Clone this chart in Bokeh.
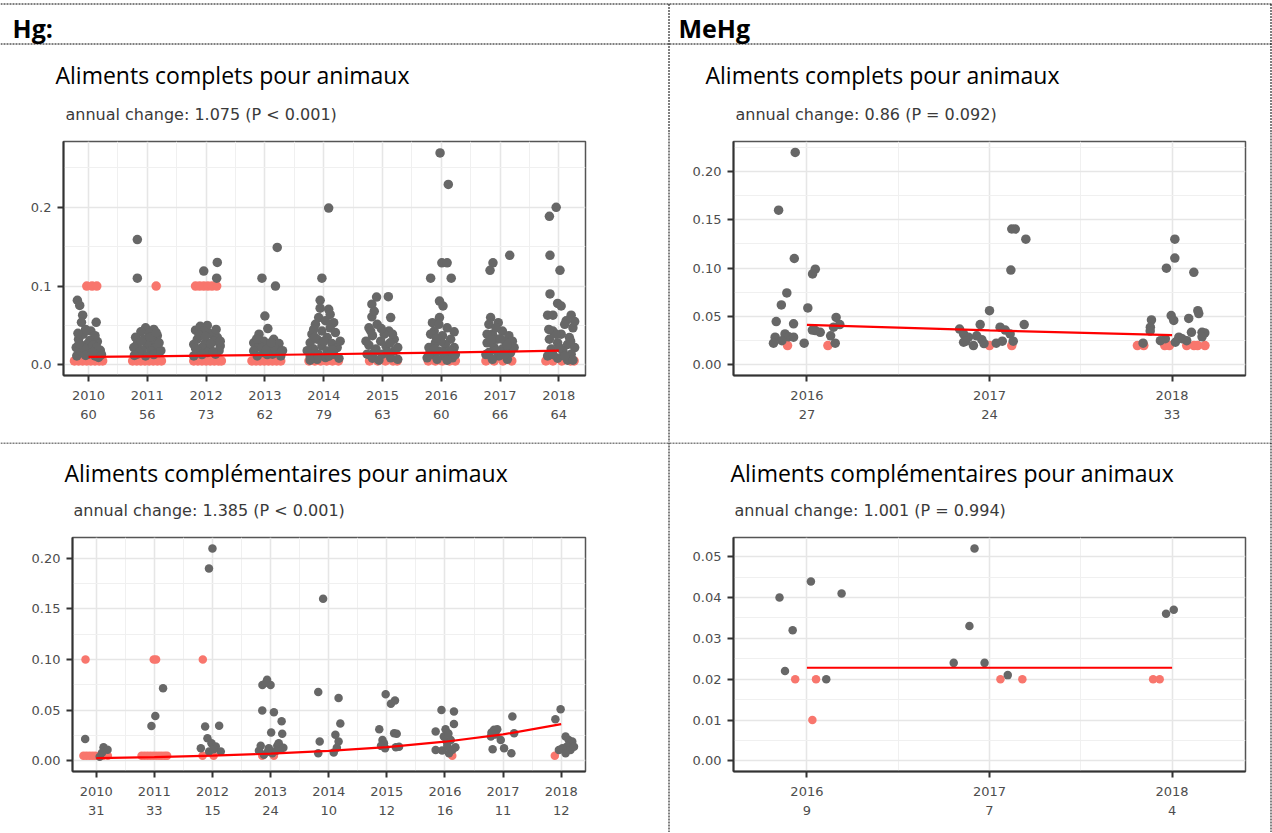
from bokeh.plotting import figure
from bokeh.layouts import column, row
from bokeh.models import Range1d, FixedTicker
from bokeh.core.properties import value
from bokeh.embed import file_html
from bokeh.resources import INLINE

# ------------------------------------------------------------------ data
years_hg = [2010, 2011, 2012, 2013, 2014, 2015, 2016, 2017, 2018]
years_mehg = [2016, 2017, 2018]

n_hg_complets = [60, 56, 73, 62, 79, 63, 60, 66, 64]
n_mehg_complets = [27, 24, 33]
n_hg_compl = [31, 33, 15, 24, 10, 12, 16, 11, 12]
n_mehg_compl = [9, 7, 4]

header_left = "Hg:"
header_right = "MeHg"
title_complets = "Aliments complets pour animaux"
title_compl = "Aliments complémentaires pour animaux"
sub_hg_complets = "annual change: 1.075 (P < 0.001)"
sub_mehg_complets = "annual change: 0.86 (P = 0.092)"
sub_hg_compl = "annual change: 1.385 (P < 0.001)"
sub_mehg_compl = "annual change: 1.001 (P = 0.994)"

yt_hg_complets = [0.0, 0.1, 0.2]
yl_hg_complets = ["0.0", "0.1", "0.2"]
ym_hg_complets = [0.05, 0.15, 0.25]
yt_mehg_complets = [0.0, 0.05, 0.10, 0.15, 0.20]
yl_mehg_complets = ["0.00", "0.05", "0.10", "0.15", "0.20"]
ym_mehg_complets = [0.025, 0.075, 0.125, 0.175, 0.225]
yt_hg_compl = [0.0, 0.05, 0.10, 0.15, 0.20]
yl_hg_compl = ["0.00", "0.05", "0.10", "0.15", "0.20"]
ym_hg_compl = [0.025, 0.075, 0.125, 0.175]
yt_mehg_compl = [0.0, 0.01, 0.02, 0.03, 0.04, 0.05]
yl_mehg_compl = ["0.00", "0.01", "0.02", "0.03", "0.04", "0.05"]
ym_mehg_compl = [0.005, 0.015, 0.025, 0.035, 0.045]

# fitted trend
fit_hg_complets = [0.0101, 0.0109, 0.0117, 0.0125, 0.0135, 0.0145, 0.0156, 0.0167, 0.0180]
fit_mehg_complets = [0.0413, 0.0357, 0.0308]
fit_hg_compl = [0.0027, 0.0037, 0.0051, 0.0071, 0.0098, 0.0136, 0.0189, 0.0261, 0.0362]
fit_mehg_compl = [0.0228, 0.0228, 0.0228]

# jittered observations (year position, value): quantified = grey, below LOQ = red
hg_complets_grey = [
    (2009.81, 0.082), (2009.85, 0.0755), (2009.90, 0.063), (2010.13, 0.054), (2009.88, 0.054),
    (2010.04, 0.043), (2009.91, 0.039), (2009.83, 0.0325), (2010.15, 0.0295), (2009.97, 0.026),
    (2009.79, 0.022), (2010.06, 0.020), (2010.20, 0.0185), (2009.89, 0.0156), (2010.00, 0.0135),
    (2010.11, 0.0114), (2009.80, 0.0114), (2010.22, 0.013), (2010.17, 0.0095), (2009.95, 0.045),
    (2010.11, 0.037), (2009.86, 0.018), (2010.02, 0.031), (2009.93, 0.021), (2010.08, 0.025),
    (2009.84, 0.027), (2010.14, 0.022), (2009.95, 0.012), (2010.07, 0.016), (2009.82, 0.040),
    (2010.83, 0.159), (2010.83, 0.110), (2010.97, 0.047), (2011.11, 0.045), (2010.89, 0.042),
    (2011.03, 0.040), (2011.17, 0.037), (2010.80, 0.035), (2010.94, 0.0325), (2011.09, 0.030),
    (2010.83, 0.027), (2011.00, 0.025), (2011.14, 0.022), (2010.77, 0.022), (2010.91, 0.0186),
    (2011.06, 0.0177), (2011.20, 0.0156), (2010.83, 0.0135), (2010.97, 0.0114), (2011.11, 0.013),
    (2011.23, 0.018), (2010.86, 0.016), (2011.05, 0.035), (2011.20, 0.028), (2010.90, 0.030),
    (2011.15, 0.041), (2010.78, 0.012),
    (2012.19, 0.130), (2011.96, 0.119), (2012.18, 0.110), (2011.82, 0.044), (2012.02, 0.050),
    (2011.90, 0.049), (2012.10, 0.039), (2011.85, 0.0325), (2011.99, 0.028), (2012.19, 0.035),
    (2011.79, 0.026), (2011.93, 0.022), (2012.07, 0.020), (2012.24, 0.024), (2011.85, 0.0177),
    (2012.02, 0.0156), (2012.16, 0.0135), (2011.79, 0.0114), (2011.93, 0.013), (2012.22, 0.018),
    (2012.05, 0.040), (2011.96, 0.043), (2012.13, 0.030), (2011.88, 0.038), (2012.24, 0.030),
    (2012.08, 0.027), (2011.82, 0.021), (2012.12, 0.016), (2011.99, 0.036), (2012.17, 0.045),
    (2013.21, 0.149), (2012.95, 0.110), (2013.18, 0.100), (2013.00, 0.062), (2013.05, 0.046),
    (2012.90, 0.039), (2013.15, 0.0325), (2012.81, 0.028), (2012.98, 0.030), (2013.24, 0.027),
    (2012.90, 0.023), (2013.07, 0.022), (2013.21, 0.0177), (2012.81, 0.0177), (2012.98, 0.0156),
    (2013.13, 0.0135), (2012.87, 0.0114), (2013.27, 0.0114), (2013.04, 0.013), (2012.95, 0.022),
    (2013.15, 0.023), (2013.30, 0.018), (2013.10, 0.028), (2012.86, 0.033), (2013.02, 0.019),
    (2014.085, 0.199), (2013.97, 0.110), (2013.94, 0.082), (2014.085, 0.0705), (2014.17, 0.0535),
    (2013.915, 0.060), (2014.03, 0.056), (2013.86, 0.0515), (2014.11, 0.047), (2013.97, 0.043),
    (2013.80, 0.039), (2014.20, 0.041), (2014.06, 0.0346), (2013.89, 0.0325), (2013.77, 0.028),
    (2014.14, 0.027), (2013.97, 0.024), (2014.23, 0.022), (2013.83, 0.020), (2014.06, 0.0177),
    (2013.91, 0.0135), (2014.17, 0.0135), (2013.77, 0.0114), (2014.03, 0.0093), (2014.26, 0.0084),
    (2013.89, 0.007), (2013.94, 0.072), (2014.11, 0.064), (2013.83, 0.045), (2013.72, 0.018),
    (2014.28, 0.030), (2014.09, 0.011), (2013.77, 0.006), (2014.00, 0.030), (2014.15, 0.019),
    (2013.85, 0.035),
    (2014.90, 0.086), (2015.10, 0.0865), (2014.82, 0.077), (2014.82, 0.061), (2015.14, 0.060),
    (2014.91, 0.0515), (2014.77, 0.047), (2015.11, 0.043), (2014.83, 0.037), (2015.20, 0.0325),
    (2014.97, 0.030), (2014.77, 0.025), (2015.06, 0.024), (2014.89, 0.020), (2015.20, 0.0177),
    (2014.74, 0.0135), (2015.00, 0.0135), (2015.14, 0.009), (2014.83, 0.0084), (2015.26, 0.007),
    (2014.94, 0.006), (2014.86, 0.068), (2015.17, 0.039), (2015.03, 0.039), (2014.72, 0.030),
    (2015.26, 0.022), (2015.09, 0.016), (2014.86, 0.016), (2014.80, 0.043), (2014.98, 0.046),
    (2015.13, 0.028),
    (2015.98, 0.269), (2016.12, 0.229), (2016.01, 0.1295), (2016.10, 0.1295), (2015.82, 0.110),
    (2016.17, 0.110), (2015.97, 0.081), (2016.03, 0.0747), (2015.97, 0.060), (2015.85, 0.0535),
    (2016.22, 0.042), (2015.88, 0.043), (2015.96, 0.0515), (2016.10, 0.047), (2015.82, 0.039),
    (2016.02, 0.037), (2016.16, 0.0325), (2015.90, 0.028), (2016.07, 0.026), (2015.79, 0.022),
    (2016.22, 0.022), (2015.96, 0.0177), (2016.13, 0.0156), (2015.85, 0.0135), (2016.05, 0.0114),
    (2016.19, 0.009), (2015.76, 0.009), (2015.93, 0.007), (2016.10, 0.006), (2015.88, 0.020),
    (2016.16, 0.018), (2015.99, 0.030), (2015.79, 0.013), (2016.24, 0.013), (2016.04, 0.016),
    (2015.92, 0.034),
    (2016.88, 0.1295), (2016.83, 0.120), (2017.165, 0.139), (2016.84, 0.060), (2016.97, 0.0535),
    (2016.81, 0.0515), (2017.04, 0.043), (2016.87, 0.039), (2017.15, 0.037), (2016.95, 0.0325),
    (2016.78, 0.028), (2017.10, 0.028), (2017.21, 0.030), (2016.90, 0.022), (2017.04, 0.020),
    (2016.81, 0.0156), (2017.18, 0.0156), (2016.98, 0.0114), (2016.87, 0.007), (2017.125, 0.007),
    (2016.76, 0.013), (2016.93, 0.018), (2017.24, 0.022), (2017.07, 0.013), (2016.78, 0.039),
    (2016.93, 0.047), (2017.12, 0.025), (2016.85, 0.032), (2017.01, 0.033),
    (2017.955, 0.200), (2017.84, 0.1886), (2017.85, 0.139), (2018.02, 0.120), (2017.85, 0.090),
    (2017.98, 0.078), (2018.04, 0.0747), (2017.81, 0.063), (2017.90, 0.063), (2018.21, 0.063),
    (2018.125, 0.056), (2018.10, 0.0515), (2018.24, 0.047), (2017.90, 0.043), (2018.04, 0.039),
    (2018.18, 0.0346), (2017.84, 0.0325), (2017.98, 0.028), (2018.15, 0.026), (2018.27, 0.022),
    (2017.87, 0.020), (2018.07, 0.0177), (2018.21, 0.0135), (2017.81, 0.0114), (2017.98, 0.0084),
    (2018.15, 0.006), (2018.24, 0.006), (2017.90, 0.013), (2018.10, 0.011), (2017.95, 0.039),
    (2018.27, 0.055), (2018.01, 0.022), (2018.20, 0.030), (2017.83, 0.045),
]
hg_complets_red = [
    (2009.97, 0.1), (2010.06, 0.1), (2010.14, 0.1),
    (2009.76, 0.005), (2009.83, 0.005), (2009.90, 0.005), (2009.97, 0.005), (2010.04, 0.005),
    (2010.11, 0.005), (2010.18, 0.005), (2010.24, 0.005),
    (2011.15, 0.1),
    (2010.75, 0.005), (2010.82, 0.005), (2010.89, 0.005), (2010.96, 0.005), (2011.03, 0.005),
    (2011.10, 0.005), (2011.17, 0.005), (2011.24, 0.005),
    (2011.82, 0.1), (2011.89, 0.1), (2011.96, 0.1), (2012.03, 0.1), (2012.10, 0.1), (2012.18, 0.1),
    (2011.79, 0.005), (2011.86, 0.005), (2011.93, 0.005), (2012.00, 0.005), (2012.07, 0.005),
    (2012.14, 0.005), (2012.21, 0.005), (2012.26, 0.005),
    (2012.78, 0.005), (2012.85, 0.005), (2012.92, 0.005), (2012.99, 0.005), (2013.06, 0.005),
    (2013.13, 0.005), (2013.20, 0.005), (2013.27, 0.005),
    (2013.75, 0.005), (2013.85, 0.005), (2013.95, 0.005), (2014.05, 0.005), (2014.15, 0.005),
    (2014.25, 0.005),
    (2014.78, 0.005), (2014.92, 0.005), (2015.05, 0.005), (2015.18, 0.005), (2015.25, 0.005),
    (2015.78, 0.005), (2015.90, 0.005), (2016.02, 0.005), (2016.14, 0.005), (2016.24, 0.005),
    (2016.76, 0.005), (2016.90, 0.005), (2017.05, 0.005), (2017.20, 0.005),
    (2017.78, 0.005), (2017.90, 0.005), (2018.05, 0.005), (2018.20, 0.005), (2018.26, 0.005),
]

mehg_complets_grey = [
    (2015.936, 0.2197), (2015.845, 0.160), (2015.931, 0.110), (2016.046, 0.099), (2016.031, 0.094),
    (2015.890, 0.0744), (2015.860, 0.062), (2016.005, 0.0589), (2015.832, 0.0448), (2015.927, 0.0424),
    (2016.160, 0.049), (2016.180, 0.0417), (2016.146, 0.039), (2016.046, 0.0355), (2016.073, 0.0337),
    (2016.030, 0.036), (2015.826, 0.0286), (2015.880, 0.032), (2015.900, 0.029), (2015.927, 0.0286),
    (2015.817, 0.0224), (2015.863, 0.025), (2015.985, 0.0224), (2016.130, 0.030), (2016.155, 0.0224),
    (2016.836, 0.037), (2016.858, 0.0234), (2016.858, 0.032), (2016.885, 0.0286), (2016.912, 0.020),
    (2016.949, 0.0417), (2016.958, 0.026), (2017.000, 0.056), (2017.037, 0.0224), (2017.058, 0.039),
    (2017.086, 0.036), (2017.113, 0.032), (2017.117, 0.098), (2017.122, 0.1405), (2017.141, 0.1405),
    (2017.130, 0.0245), (2017.190, 0.0417), (2017.199, 0.130), (2016.870, 0.0245), (2017.070, 0.0245),
    (2016.970, 0.022), (2016.930, 0.030),
    (2018.015, 0.130), (2018.015, 0.1105), (2017.969, 0.100), (2018.119, 0.0957), (2018.141, 0.056),
    (2018.146, 0.053), (2017.995, 0.051), (2018.009, 0.046), (2018.091, 0.048), (2017.887, 0.0465),
    (2017.881, 0.039), (2018.106, 0.0337), (2018.164, 0.0337), (2018.179, 0.033), (2018.037, 0.0286),
    (2018.055, 0.027), (2017.963, 0.027), (2017.841, 0.0224), (2018.164, 0.029), (2018.018, 0.0234),
    (2018.080, 0.025), (2017.936, 0.025), (2017.880, 0.035),
]
mehg_complets_red = [
    (2015.894, 0.02), (2016.115, 0.02),
    (2017.000, 0.02), (2017.122, 0.02),
    (2017.810, 0.02), (2017.845, 0.02), (2017.960, 0.02), (2017.985, 0.02), (2018.080, 0.02),
    (2018.120, 0.02), (2018.140, 0.02), (2018.180, 0.02),
]

hg_compl_grey = [
    (2009.81, 0.0217), (2010.126, 0.0135), (2010.195, 0.011), (2010.06, 0.004), (2010.10, 0.008),
    (2011.15, 0.0718), (2011.017, 0.0444), (2010.95, 0.0345),
    (2012.00, 0.2096), (2011.94, 0.190), (2011.874, 0.034), (2012.115, 0.0346), (2011.914, 0.0224),
    (2011.983, 0.0174), (2012.057, 0.0141), (2011.80, 0.0125), (2012.143, 0.0092), (2011.943, 0.0092),
    (2012.02, 0.0115),
    (2012.86, 0.075), (2012.94, 0.080), (2013.00, 0.075), (2012.92, 0.077), (2012.857, 0.0497),
    (2013.057, 0.048), (2013.19, 0.039), (2013.01, 0.028), (2013.20, 0.0267), (2012.83, 0.0148),
    (2012.97, 0.0125), (2013.115, 0.0148), (2013.14, 0.0174), (2013.03, 0.0076), (2012.885, 0.006),
    (2013.16, 0.011), (2012.95, 0.009), (2013.10, 0.010), (2013.22, 0.013), (2012.80, 0.010),
    (2013.904, 0.160), (2013.82, 0.068), (2014.17, 0.062), (2014.20, 0.037), (2014.115, 0.0257),
    (2014.17, 0.019), (2013.845, 0.019), (2013.82, 0.0076), (2014.086, 0.0082), (2014.14, 0.013),
    (2014.98, 0.0658), (2015.14, 0.0596), (2015.07, 0.0563), (2014.87, 0.0313), (2015.126, 0.0273),
    (2015.17, 0.0267), (2014.925, 0.0207), (2014.95, 0.0174), (2014.90, 0.0148), (2015.155, 0.0135),
    (2015.21, 0.014), (2014.97, 0.0125),
    (2015.94, 0.0503), (2016.155, 0.0487), (2016.155, 0.0365), (2016.01, 0.0313), (2015.84, 0.029),
    (2016.10, 0.0207), (2016.03, 0.019), (2016.18, 0.0135), (2015.84, 0.0108), (2016.07, 0.0076),
    (2015.95, 0.0102), (2016.04, 0.0148), (2016.13, 0.011), (2015.98, 0.024), (2016.06, 0.027),
    (2017.16, 0.0438), (2016.845, 0.0306), (2016.90, 0.0313), (2016.79, 0.024), (2017.19, 0.0273),
    (2016.82, 0.0115), (2017.017, 0.0125), (2017.143, 0.0076), (2016.96, 0.0207), (2016.87, 0.026),
    (2016.80, 0.028),
    (2017.99, 0.051), (2017.90, 0.0411), (2018.075, 0.024), (2018.13, 0.0207), (2018.19, 0.019),
    (2018.10, 0.0141), (2018.02, 0.0125), (2018.16, 0.0108), (2018.075, 0.0076), (2017.96, 0.0108),
    (2018.22, 0.014),
]
hg_compl_red = [
    (2009.816, 0.10),
    (2009.78, 0.005), (2009.83, 0.005), (2009.88, 0.005), (2009.93, 0.005), (2009.98, 0.005),
    (2010.05, 0.005), (2010.12, 0.005), (2010.20, 0.005),
    (2010.99, 0.10), (2011.03, 0.10),
    (2010.78, 0.005), (2010.83, 0.005), (2010.88, 0.005), (2010.93, 0.005), (2010.98, 0.005),
    (2011.03, 0.005), (2011.08, 0.005), (2011.13, 0.005), (2011.18, 0.005), (2011.22, 0.005),
    (2011.834, 0.10), (2011.83, 0.005), (2012.02, 0.005),
    (2012.857, 0.005), (2013.057, 0.005),
    (2016.126, 0.005),
    (2017.89, 0.005),
]

mehg_compl_grey = [
    (2015.850, 0.040), (2016.022, 0.0439), (2016.190, 0.041), (2015.922, 0.032), (2015.880, 0.022),
    (2016.106, 0.020),
    (2016.918, 0.052), (2016.890, 0.033), (2016.804, 0.024), (2016.973, 0.024), (2017.100, 0.021),
    (2017.967, 0.036), (2018.009, 0.037),
]
mehg_compl_red = [
    (2015.936, 0.02), (2016.050, 0.02), (2016.030, 0.010),
    (2017.060, 0.02), (2017.180, 0.02),
    (2017.896, 0.02), (2017.932, 0.02),
]

# ------------------------------------------------------------------ style
GREY = "#676767"
SALMON = "#F8766D"
TREND = "#FF0000"
DARK = "#333333"
LABEL = "#4D4D4D"
GRID = "#E6E6E6"
GRID_MINOR = "#F0F0F0"
SANS = "DejaVu Sans"
WORD = "Open Sans"


def no_align(p):
    try:
        p.frame_align = False
    except AttributeError:
        pass


def canvas(width, height):
    p = figure(width=width, height=height, x_range=Range1d(0, width), y_range=Range1d(height, 0),
               x_axis_type=None, y_axis_type=None, min_border=0, title=None,
               toolbar_location=None, output_backend="svg")
    p.outline_line_color = None
    p.background_fill_color = "white"
    p.border_fill_color = "white"
    no_align(p)
    return p


def dotted(p, x0, y0, x1, y1):
    p.segment(x0=x0, y0=y0, x1=x1, y1=y1, line_color="#000000", line_width=1, line_dash="2 1")


def write(p, x, y, txt, font, size, color="#000000", style="normal"):
    p.text(x=[x], y=[y], text=[txt], text_font=value(font), text_font_size=value(size),
           text_color=color, text_font_style=style, text_baseline="alphabetic", text_align="left")


def spacer(width, height, at):
    # blank strip of the table that carries a vertical cell border
    p = canvas(width, height)
    dotted(p, [at], [0], [at], [height])
    return p


def panel(grey, red, years, fit, counts, xr, yr, yt, yl, ym, fw, fh, bl, br, bt, bb, size):
    p = figure(x_range=Range1d(*xr), y_range=Range1d(*yr), frame_width=fw, frame_height=fh,
               min_border_left=bl, min_border_right=br, min_border_top=bt, min_border_bottom=bb,
               title=None, toolbar_location=None, output_backend="svg")
    no_align(p)
    p.background_fill_color = "white"
    p.border_fill_color = "white"
    p.outline_line_color = "#555555"
    p.outline_line_width = 1.5

    p.xaxis.ticker = FixedTicker(ticks=years, minor_ticks=[y + 0.5 for y in range(years[0] - 1, years[-1] + 1)])
    p.xaxis.major_label_overrides = {y: f"{y}\n{n}" for y, n in zip(years, counts)}
    p.yaxis.ticker = FixedTicker(ticks=yt, minor_ticks=ym)
    p.yaxis.major_label_overrides = {t: l for t, l in zip(yt, yl)}

    for ax in (p.xaxis[0], p.yaxis[0]):
        ax.axis_line_color = DARK
        ax.axis_line_width = 2
        ax.major_tick_line_color = DARK
        ax.major_tick_line_width = 2
        ax.major_tick_in = 0
        ax.major_tick_out = 6
        ax.minor_tick_line_color = None
        ax.major_label_text_font = SANS
        ax.major_label_text_font_size = "13px"
        ax.major_label_text_color = LABEL
        ax.major_label_standoff = 6
    p.xaxis[0].major_label_text_line_height = 1.32

    for g in (p.xgrid[0], p.ygrid[0]):
        g.grid_line_color = GRID
        g.grid_line_width = 1.6
        g.minor_grid_line_color = GRID_MINOR
        g.minor_grid_line_width = 1

    p.scatter([v[0] for v in red], [v[1] for v in red], size=size, color=SALMON, line_color=None)
    p.scatter([v[0] for v in grey], [v[1] for v in grey], size=size, color=GREY, line_color=None)
    p.line(years, fit, line_color=TREND, line_width=2.2)
    return p


# ------------------------------------------------------------------ header band (row 1 titles)
W = 1272
head = canvas(W, 132)
dotted(head, [0, 0, 668.5, 1270.5], [3.5, 43.5, 3.5, 3.5], [W, W, 668.5, 1270.5], [3.5, 43.5, 132, 132])
write(head, 12, 27, header_left, WORD, "25px", style="bold")
write(head, 678, 27, header_right, WORD, "25px", style="bold")
write(head, 55, 74, title_complets, WORD, "23px")
write(head, 705, 74, title_complets, WORD, "23px")
write(head, 65, 113.5, sub_hg_complets, SANS, "16px", "#3A3A3A")
write(head, 735, 113.5, sub_mehg_complets, SANS, "16px", "#3A3A3A")

pA = panel(hg_complets_grey, hg_complets_red, years_hg, fit_hg_complets, n_hg_complets,
           (2009.574, 2018.454), (-0.0135, 0.2835), yt_hg_complets, yl_hg_complets, ym_hg_complets,
           522, 234, 63, 73, 9, 67, 9.5)
pB = panel(mehg_complets_grey, mehg_complets_red, years_mehg, fit_mehg_complets, n_mehg_complets,
           (2015.598, 2018.402), (-0.011, 0.231), yt_mehg_complets, yl_mehg_complets, ym_mehg_complets,
           512, 234, 55, 15, 9, 67, 9.5)

# ------------------------------------------------------------------ middle band (row 2 titles)
mid = canvas(W, 88)
dotted(mid, [0, 668.5, 1270.5], [0.5, 0, 0], [W, 668.5, 1270.5], [0.5, 88, 88])
write(mid, 64, 30.5, title_compl, WORD, "23px")
write(mid, 730, 30.5, title_compl, WORD, "23px")
write(mid, 73, 67.5, sub_hg_compl, SANS, "16px", "#3A3A3A")
write(mid, 734, 67.5, sub_mehg_compl, SANS, "16px", "#3A3A3A")

pC = panel(hg_compl_grey, hg_compl_red, years_hg, fit_hg_compl, n_hg_compl,
           (2009.592, 2018.418), (-0.0105, 0.2205), yt_hg_compl, yl_hg_compl, ym_hg_compl,
           513, 234, 72, 73, 7, 61, 8.5)
pD = panel(mehg_compl_grey, mehg_compl_red, years_mehg, fit_mehg_compl, n_mehg_compl,
           (2015.598, 2018.402), (-0.0026, 0.0547), yt_mehg_compl, yl_mehg_compl, ym_mehg_compl,
           512, 234, 55, 15, 7, 61, 8.5)

layout = column(
    head,
    row(pA, spacer(20, 310, 10.5), pB, spacer(12, 310, 10.5)),
    mid,
    row(pC, spacer(20, 302, 10.5), pD, spacer(12, 302, 10.5)),
)

open("out.html", "w").write(file_html(layout, INLINE))
